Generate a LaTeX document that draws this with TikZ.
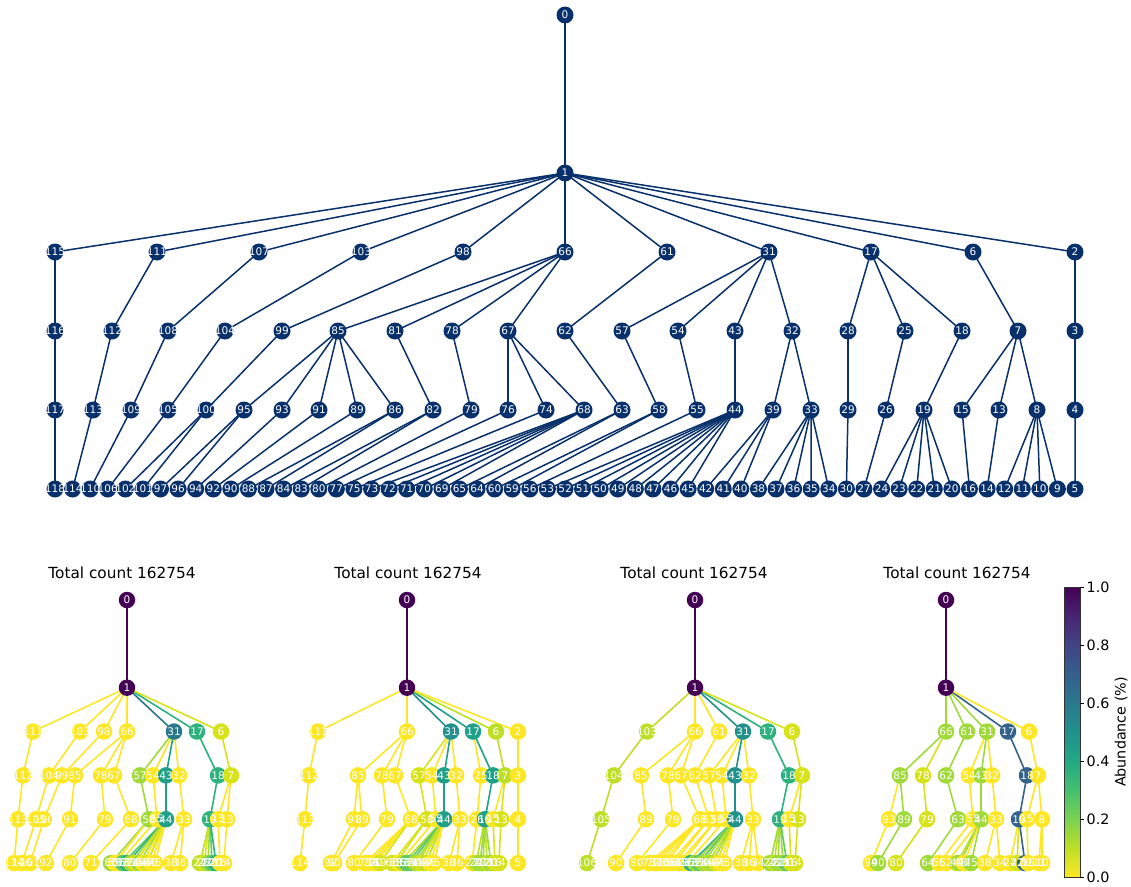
\documentclass[tikz,border=0pt]{standalone}
\usepackage{fontspec}
\setmainfont{DejaVu Sans}
\usetikzlibrary{calc}

\definecolor{treeblue}{RGB}{8,48,107}
%% abundance colours (reversed viridis)
\definecolor{ab100}{HTML}{440154}
\definecolor{ab70}{HTML}{33638D}
\definecolor{ab60}{HTML}{2A788E}
\definecolor{ab50}{HTML}{21918C}
\definecolor{ab45}{HTML}{1FA088}
\definecolor{ab35}{HTML}{2DB27D}
\definecolor{ab25}{HTML}{5EC962}
\definecolor{ab15}{HTML}{A0DA39}
\definecolor{ab10}{HTML}{BDDF26}
\definecolor{ab05}{HTML}{D8E219}
\definecolor{ab00}{HTML}{FDE725}
\definecolor{cb0}{HTML}{FDE725}
\definecolor{cb1}{HTML}{BDDF26}
\definecolor{cb2}{HTML}{7AD151}
\definecolor{cb3}{HTML}{44BF70}
\definecolor{cb4}{HTML}{22A884}
\definecolor{cb5}{HTML}{21918C}
\definecolor{cb6}{HTML}{2A788E}
\definecolor{cb7}{HTML}{355F8D}
\definecolor{cb8}{HTML}{414487}
\definecolor{cb9}{HTML}{482475}
\definecolor{cb10}{HTML}{440154}
\pgfdeclareverticalshading{viridisbar}{100bp}{color(0bp)=(cb0); color(25bp)=(cb0);
  color(30bp)=(cb1); color(35bp)=(cb2); color(40bp)=(cb3); color(45bp)=(cb4);
  color(50bp)=(cb5); color(55bp)=(cb6); color(60bp)=(cb7); color(65bp)=(cb8);
  color(70bp)=(cb9); color(75bp)=(cb10); color(100bp)=(cb10)}

%% node/parent/colour of the four abundance trees
\newcommand\abtreea{1/0/ab100,
  111/1/ab00, 103/1/ab00, 98/1/ab00, 66/1/ab00, 31/1/ab60, 17/1/ab35, 6/1/ab05,
  112/111/ab00, 104/103/ab00, 99/98/ab00, 85/66/ab00, 78/66/ab00, 67/66/ab00, 57/31/ab15,
  54/31/ab00, 43/31/ab45, 32/31/ab00, 18/17/ab35, 7/6/ab05,
  113/112/ab00, 105/104/ab00, 100/99/ab00, 91/85/ab00, 79/78/ab00, 68/67/ab00, 58/57/ab15,
  55/54/ab00, 44/43/ab45, 33/32/ab00, 19/18/ab35, 15/7/ab00, 13/7/ab00,
  114/113/ab00, 106/105/ab00, 101/100/ab00, 92/91/ab00, 80/79/ab00, 71/68/ab00, 60/58/ab15,
  59/58/ab00, 56/55/ab00, 53/44/ab25, 52/44/ab35, 51/44/ab15, 50/44/ab05, 49/44/ab15,
  48/44/ab00, 47/44/ab05, 46/44/ab00, 45/44/ab00, 38/33/ab00, 36/33/ab00, 24/19/ab10,
  23/19/ab05, 22/19/ab15, 21/19/ab25, 20/19/ab35, 16/15/ab00, 14/13/ab00}
\newcommand\abtreeb{1/0/ab100,
  111/1/ab00, 66/1/ab00, 31/1/ab50, 17/1/ab45, 6/1/ab10, 2/1/ab00,
  112/111/ab00, 85/66/ab00, 78/66/ab00, 67/66/ab00, 57/31/ab05, 54/31/ab00, 43/31/ab45,
  32/31/ab00, 25/17/ab00, 18/17/ab45, 7/6/ab10, 3/2/ab00,
  113/112/ab00, 91/85/ab00, 89/85/ab00, 79/78/ab00, 68/67/ab00, 58/57/ab05, 55/54/ab00,
  44/43/ab45, 33/32/ab00, 26/25/ab00, 19/18/ab45, 15/7/ab00, 13/7/ab05, 4/3/ab00,
  114/113/ab00, 92/91/ab00, 90/89/ab00, 80/79/ab00, 73/68/ab00, 72/68/ab00, 71/68/ab00,
  70/68/ab00, 69/68/ab05, 60/58/ab05, 59/58/ab05, 56/55/ab00, 53/44/ab10, 52/44/ab25,
  51/44/ab25, 50/44/ab15, 49/44/ab10, 48/44/ab05, 47/44/ab10, 46/44/ab00, 45/44/ab00,
  38/33/ab00, 36/33/ab00, 27/26/ab00, 24/19/ab10, 23/19/ab15, 22/19/ab15, 21/19/ab10,
  20/19/ab15, 16/15/ab05, 14/13/ab05, 5/4/ab00}
\newcommand\abtreec{1/0/ab100,
  103/1/ab10, 66/1/ab00, 61/1/ab00, 31/1/ab50, 17/1/ab35, 6/1/ab05,
  104/103/ab10, 85/66/ab00, 78/66/ab00, 67/66/ab00, 62/61/ab00, 57/31/ab00, 54/31/ab00,
  43/31/ab50, 32/31/ab00, 18/17/ab35, 7/6/ab05,
  105/104/ab10, 89/85/ab00, 79/78/ab00, 68/67/ab00, 63/62/ab00, 58/57/ab00, 55/54/ab00,
  44/43/ab50, 33/32/ab00, 19/18/ab35, 15/7/ab00, 13/7/ab05,
  106/105/ab10, 90/89/ab00, 80/79/ab00, 73/68/ab00, 72/68/ab00, 71/68/ab00, 70/68/ab00,
  69/68/ab00, 65/63/ab00, 64/63/ab00, 60/58/ab00, 59/58/ab00, 56/55/ab00, 53/44/ab35,
  52/44/ab15, 51/44/ab25, 50/44/ab15, 49/44/ab10, 48/44/ab15, 47/44/ab05, 46/44/ab00,
  45/44/ab00, 38/33/ab00, 36/33/ab00, 34/33/ab00, 24/19/ab15, 23/19/ab10, 22/19/ab15,
  21/19/ab15, 20/19/ab25, 16/15/ab05, 14/13/ab05}
\newcommand\abtreed{1/0/ab100,
  66/1/ab15, 61/1/ab15, 31/1/ab15, 17/1/ab70, 6/1/ab00,
  85/66/ab15, 78/66/ab05, 62/61/ab15, 54/31/ab00, 43/31/ab15, 32/31/ab00, 18/17/ab70, 7/6/ab00,
  93/85/ab00, 89/85/ab15, 79/78/ab05, 63/62/ab15, 55/54/ab00, 44/43/ab15, 33/32/ab00,
  19/18/ab70, 15/7/ab00, 8/7/ab00,
  94/93/ab00, 90/89/ab15, 80/79/ab05, 64/63/ab15, 56/55/ab00, 52/44/ab00, 49/44/ab10,
  48/44/ab15, 47/44/ab00, 45/44/ab15, 38/33/ab00, 34/33/ab00, 24/19/ab00, 22/19/ab05,
  20/19/ab70, 16/15/ab00, 11/8/ab00, 10/8/ab00}

\begin{document}
\begin{tikzpicture}%
	[x=1pt, y=-1pt,
	edge/.style={color=treeblue, line width=1.5pt},
	vertex/.style={circle, fill=treeblue, inner sep=0pt, minimum size=17pt},
	vlabel/.style={text=white, inner sep=0pt, font=\fontsize{10.5}{11}\selectfont},
	abedge/.style={line width=1.6pt},
	abvertex/.style={circle, inner sep=0pt, minimum size=16.5pt},
	ablabel/.style={text=white, inner sep=0pt, font=\fontsize{10.5}{11}\selectfont},
	abtitle/.style={inner sep=0pt, font=\fontsize{15.3}{16}\selectfont},
	cbtext/.style={inner sep=0pt, font=\fontsize{14.3}{15}\selectfont}]
\useasboundingbox (0,0) rectangle (1131,886);
%
%% Coordinates of the vertices of the full tree, level by level
%%
\coordinate (t0) at (565,15);
\coordinate (t1) at (565,173);
\foreach \k [count=\i from 0] in {115,111,107,103,98,66,61,31,17,6,2}
  \coordinate (t\k) at ({55+102*\i},252);
\foreach \k [count=\i from 0] in {116,112,108,104,99,85,81,78,67,62,57,54,43,32,28,25,18,7,3}
  \coordinate (t\k) at ({round(55+56.6667*\i)},331);
\foreach \k [count=\i from 0] in {117,113,109,105,100,95,93,91,89,86,82,79,76,74,68,63,58,55,
    44,39,33,29,26,19,15,13,8,4}
  \coordinate (t\k) at ({round(55+37.7778*\i)},410);
\foreach \k [count=\i from 0] in {118,114,110,106,102,101,97,96,94,92,90,88,87,84,83,80,77,75,
    73,72,71,70,69,65,64,60,59,56,53,52,51,50,49,48,47,46,45,42,41,40,38,37,36,35,34,30,27,
    24,23,22,21,20,16,14,12,11,10,9,5}
  \coordinate (t\k) at ({55+17.5862*\i},489);
%%
%% Drawing the edges
%%
\foreach \a/\b in {0/1,
    1/115,1/111,1/107,1/103,1/98,1/66,1/61,1/31,1/17,1/6,1/2,
    115/116,111/112,107/108,103/104,98/99,66/85,66/81,66/78,66/67,61/62,31/57,31/54,31/43,
    31/32,17/28,17/25,17/18,6/7,2/3,
    116/117,112/113,108/109,104/105,99/100,85/95,85/93,85/91,85/89,85/86,81/82,78/79,67/76,
    67/74,67/68,62/63,57/58,54/55,43/44,32/39,32/33,28/29,25/26,18/19,7/15,7/13,7/8,3/4,
    117/118,113/114,109/110,105/106,100/101,100/102,95/96,95/97,93/94,91/92,89/90,86/87,86/88,
    82/83,82/84,79/80,76/77,74/75,68/69,68/70,68/71,68/72,68/73,63/64,63/65,58/59,58/60,55/56,
    44/45,44/46,44/47,44/48,44/49,44/50,44/51,44/52,44/53,39/40,39/41,39/42,
    33/34,33/35,33/36,33/37,33/38,29/30,26/27,19/20,19/21,19/22,19/23,19/24,15/16,13/14,
    8/9,8/10,8/11,8/12,4/5}
  \draw[edge] (t\a) -- (t\b);
%%
%% Drawing the vertices and their labels
%%
\foreach \k in {0,...,118}
  \node[vertex] (v\k) at (t\k) {};
\foreach \k in {0,...,118}
  \node[vlabel] (l\k) at (t\k) {\k};
%%
%% Abundance tree 1
%%
\path let \p1=(t0) in coordinate (a0) at ({round(127+0.230*(\x1-565))},{-600pt+0.555*(\y1+15pt)});
\foreach \k/\q/\c in \abtreea
  {\path let \p1=(t\k) in coordinate (a\k) at ({round(127+0.230*(\x1-565))},{-600pt+0.555*(\y1+15pt)});}
\foreach \k/\q/\c in \abtreea
  \draw[abedge, color=\c] (a\q) -- (a\k);
\node[abvertex, fill=ab100] (ad0) at (a0) {};
\foreach \k/\q/\c in \abtreea
  \node[abvertex, fill=\c] (ad\k) at (a\k) {};
\node[ablabel] (al0) at (a0) {0};
\foreach \k/\q/\c in \abtreea
  \node[ablabel] (al\k) at (a\k) {\k};
\node[abtitle] (atitle) at (122,573) {Total count 162754};
%%
%% Abundance tree 2
%%
\path let \p1=(t0) in coordinate (b0) at ({round(407+0.217*(\x1-565))},{-600pt+0.555*(\y1+15pt)});
\foreach \k/\q/\c in \abtreeb
  {\path let \p1=(t\k) in coordinate (b\k) at ({round(407+0.217*(\x1-565))},{-600pt+0.555*(\y1+15pt)});}
\foreach \k/\q/\c in \abtreeb
  \draw[abedge, color=\c] (b\q) -- (b\k);
\node[abvertex, fill=ab100] (bd0) at (b0) {};
\foreach \k/\q/\c in \abtreeb
  \node[abvertex, fill=\c] (bd\k) at (b\k) {};
\node[ablabel] (bl0) at (b0) {0};
\foreach \k/\q/\c in \abtreeb
  \node[ablabel] (bl\k) at (b\k) {\k};
\node[abtitle] (btitle) at (408,573) {Total count 162754};
%%
%% Abundance tree 3
%%
\path let \p1=(t0) in coordinate (c0) at ({round(695+0.237*(\x1-565))},{-600pt+0.555*(\y1+15pt)});
\foreach \k/\q/\c in \abtreec
  {\path let \p1=(t\k) in coordinate (c\k) at ({round(695+0.237*(\x1-565))},{-600pt+0.555*(\y1+15pt)});}
\foreach \k/\q/\c in \abtreec
  \draw[abedge, color=\c] (c\q) -- (c\k);
\node[abvertex, fill=ab100] (cd0) at (c0) {};
\foreach \k/\q/\c in \abtreec
  \node[abvertex, fill=\c] (cd\k) at (c\k) {};
\node[ablabel] (cl0) at (c0) {0};
\foreach \k/\q/\c in \abtreec
  \node[ablabel] (cl\k) at (c\k) {\k};
\node[abtitle] (ctitle) at (694,573) {Total count 162754};
%%
%% Abundance tree 4
%%
\path let \p1=(t0) in coordinate (d0) at ({round(946+0.203*(\x1-565))},{-600pt+0.555*(\y1+15pt)});
\foreach \k/\q/\c in \abtreed
  {\path let \p1=(t\k) in coordinate (d\k) at ({round(946+0.203*(\x1-565))},{-600pt+0.555*(\y1+15pt)});}
\foreach \k/\q/\c in \abtreed
  \draw[abedge, color=\c] (d\q) -- (d\k);
\node[abvertex, fill=ab100] (dd0) at (d0) {};
\foreach \k/\q/\c in \abtreed
  \node[abvertex, fill=\c] (dd\k) at (d\k) {};
\node[ablabel] (dl0) at (d0) {0};
\foreach \k/\q/\c in \abtreed
  \node[ablabel] (dl\k) at (d\k) {\k};
\node[abtitle] (dtitle) at (957,573) {Total count 162754};
%%
%% Colour bar
%%
\shade[shading=viridisbar] (1064,587) rectangle (1080,877);
\draw[line width=0.6pt, black!80] (1064,587) rectangle (1080,877);
\foreach \v [count=\i from 0] in {0.0,0.2,0.4,0.6,0.8,1.0}
  {\draw[line width=0.6pt] (1080,{877-58*\i}) -- ++(4,0) coordinate (tick\i);
   \node[cbtext, anchor=west] (ticklabel\i) at ($(tick\i)+(2.5,0)$) {\v};}
\node[cbtext, rotate=90] (cbtitle) at (1121,732) {Abundance (\%)};
\end{tikzpicture}
\end{document}
